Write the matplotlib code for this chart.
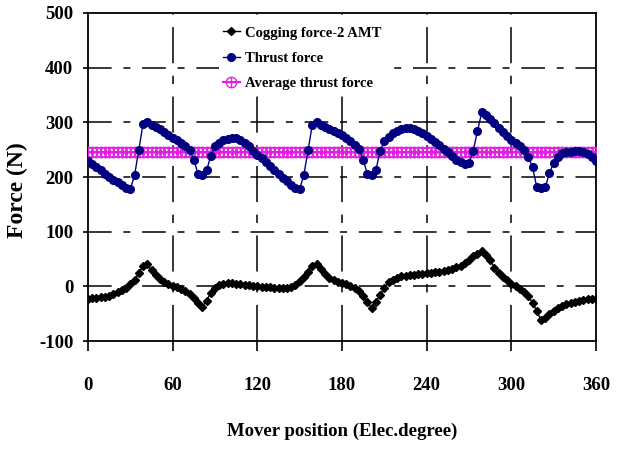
import matplotlib
matplotlib.use("Agg")
import matplotlib.pyplot as plt
import numpy as np

# ---- data ----
position = list(range(0, 361, 3))

thrust = [230, 224, 218, 212, 206, 200, 195, 190, 185, 180,
          178, 203, 250, 297, 300, 296, 291, 287, 282, 277,
          272, 267, 262, 256, 250, 232, 205, 204, 212, 238,
          256, 262, 267, 270, 272, 271, 268, 263, 256, 248,
          241, 234, 227, 220, 213, 206, 199, 192, 186, 179,
          178, 204, 250, 296, 300, 296, 292, 288, 284, 280,
          276, 271, 265, 259, 252, 232, 205, 204, 212, 248,
          265, 273, 280, 285, 288, 290, 289, 287, 284, 280,
          275, 270, 264, 258, 251, 245, 238, 232, 227, 223,
          226, 248, 284, 318, 314, 306, 298, 290, 282, 275,
          268, 262, 256, 249, 237, 218, 182, 180, 181, 207,
          226, 237, 243, 245, 246, 247, 247, 246, 242, 236,
          230]

cogging = [-23, -22, -21, -20, -19, -17, -14, -11, -7, -3,
           4, 12, 24, 38, 40, 30, 20, 13, 8, 4,
           1, -2, -4, -8, -14, -21, -30, -38, -26, -12,
           -3, 3, 5, 6, 6, 5, 4, 3, 2, 1,
           0, -1, -2, -2, -3, -3, -3, -3, -2, 2,
           9, 17, 27, 38, 40, 31, 22, 15, 11, 8,
           6, 4, 1, -3, -9, -17, -28, -40, -28, -16,
           -3, 8, 12, 15, 18, 19, 20, 21, 22, 23,
           24, 25, 26, 27, 28, 30, 32, 35, 38, 42,
           48, 55, 60, 64, 58, 48, 34, 24, 17, 11,
           5, 0, -5, -11, -18, -30, -45, -62, -58, -51,
           -45, -40, -36, -33, -30, -28, -26, -25, -24, -24,
           -23]

average_thrust = 245
average = [average_thrust] * len(position)

x_ticks = [0, 60, 120, 180, 240, 300, 360]
y_ticks = [-100, 0, 100, 200, 300, 400, 500]

labels = ["Cogging force-2 AMT", "Thrust force", "Average thrust force"]
x_label = "Mover position (Elec.degree)"
y_label = "Force (N)"

# ---- style ----
plt.rcParams['font.family'] = ['Liberation Serif', 'DejaVu Serif']
plt.rcParams['font.weight'] = 'bold'
plt.rcParams['lines.scale_dashes'] = False

fig = plt.figure(figsize=(6.29, 4.55), dpi=100)
ax = fig.add_axes([88/629, 1 - 341/455, 508/629, 328/455])

navy = '#000080'
pink = '#E020E0'

avg_line, = ax.plot(position, average, color=pink, lw=1.5, marker='o',
                    ms=7.5, mfc='none', mec=pink, mew=1.0, zorder=3)
avg_plus, = ax.plot(position, average, color=pink, lw=0, marker='+',
                    ms=7.5, mec=pink, mew=1.0, zorder=3)
thr_line, = ax.plot(position, thrust, color=navy, lw=1.0, marker='o',
                    ms=5.5, mfc=navy, mec=navy, zorder=4)
cog_line, = ax.plot(position, cogging, color='black', lw=1.0, marker='D',
                    ms=4.5, mfc='black', mec='black', zorder=4)

ax.set_xlim(0, 360)
ax.set_ylim(-100, 500)
ax.set_xticks(x_ticks)
ax.set_yticks(y_ticks)
ax.set_xticklabels([str(v) for v in x_ticks], fontsize=13.5, fontweight='bold')
ax.set_yticklabels([str(v) for v in y_ticks], fontsize=13.5, fontweight='bold')

ax.tick_params(axis='x', direction='out', length=7, width=1.2, pad=19)
ax.tick_params(axis='y', direction='out', length=3.6, width=1.2, pad=7)

for s in ax.spines.values():
    s.set_linewidth(1.3)
    s.set_color('black')

# grid lines
for yv in y_ticks[1:-1]:
    ax.axhline(yv, color='black', lw=1.1, ls=(0, (17, 8.5, 5, 8.5)), zorder=1)
for xv in x_ticks[1:-1]:
    ax.axvline(xv, color='black', lw=1.1, ls=(0, (26, 9, 6, 9)), zorder=1)

ax.set_xlabel(x_label, fontsize=13.5, fontweight='bold')
ax.xaxis.set_label_coords(0.5, -0.25)
ax.set_ylabel(y_label, fontsize=17, fontweight='bold')
ax.yaxis.set_label_coords(-0.118, 0.46)

leg = ax.legend([cog_line, thr_line, (avg_line, avg_plus)], labels,
                loc='upper left', bbox_to_anchor=(0.257, 0.9726),
                borderaxespad=0, borderpad=0.3, frameon=True,
                facecolor='white', edgecolor='none', framealpha=1,
                handlelength=1.15, handletextpad=0.35,
                labelspacing=0.84, prop={'weight': 'bold', 'size': 10.5})
leg.set_zorder(5)

fig.savefig("out.png", dpi=100)
